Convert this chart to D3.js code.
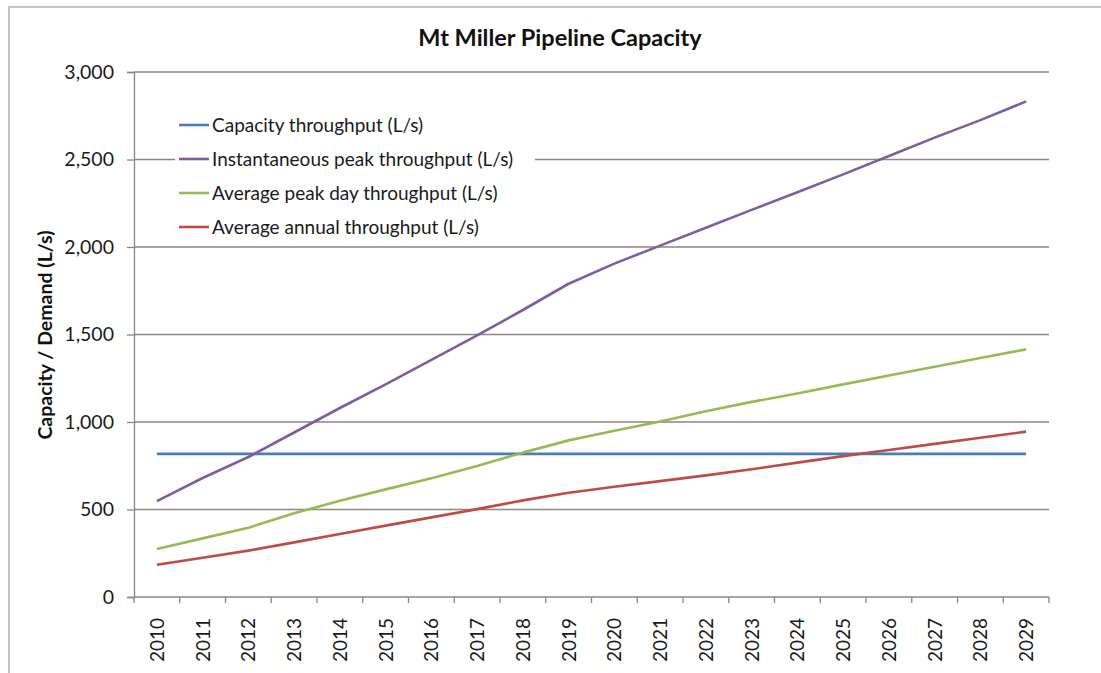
<!DOCTYPE html>
<html>
<head>
<meta charset="utf-8">
<script src="https://cdn.jsdelivr.net/npm/d3@7"></script>
<style>
  html, body { margin: 0; padding: 0; background: #fff; }
  svg { display: block; font-family: Lato, "Open Sans", sans-serif; }
</style>
</head>
<body>
<svg id="chart" width="1101" height="673"></svg>
<script>
// Forecast years
const years = ["2010","2011","2012","2013","2014","2015","2016","2017","2018","2019",
               "2020","2021","2022","2023","2024","2025","2026","2027","2028","2029"];

// Throughput series (L/s)
const capacityThroughput = [818,818,818,818,818,818,818,818,818,818,
                            818,818,818,818,818,818,818,818,818,818];
const instantaneousPeak = [548,680,800,940,1080,1215,1355,1495,1640,1790,
                           1905,2008,2110,2212,2313,2415,2520,2625,2725,2832];
const averagePeakDay = [274,335,396,478,550,615,678,748,825,895,
                        950,1003,1062,1115,1163,1215,1266,1316,1366,1415];
const averageAnnual = [184,224,265,312,360,408,455,502,552,596,
                       630,662,695,730,768,805,840,875,910,945];

const seriesNames = ["Capacity throughput (L/s)", "Instantaneous peak throughput (L/s)",
                     "Average peak day throughput (L/s)", "Average annual throughput (L/s)"];
const seriesColors = ["#4a7ebb", "#7d5fa0", "#98b954", "#be4b48"];
const seriesValues = [capacityThroughput, instantaneousPeak, averagePeakDay, averageAnnual];

const yTicks = [0, 500, 1000, 1500, 2000, 2500, 3000];

const svg = d3.select("#chart");
const margin = { left: 134, right: 1049, top: 72, bottom: 597 };

// Outer chart frame (top and left edges)
svg.append("path")
  .attr("d", "M9,673 L9,7 L1101,7")
  .attr("fill", "none")
  .attr("stroke", "#c4c4c4")
  .attr("stroke-width", 2);

const x = d3.scaleBand().domain(years).range([margin.left, margin.right]).padding(0);
const y = d3.scaleLinear().domain([0, 3000]).range([margin.bottom, margin.top]);

// Horizontal gridlines
svg.append("g")
  .selectAll("line")
  .data(yTicks.filter(d => d > 0))
  .join("line")
  .attr("x1", margin.left).attr("x2", margin.right)
  .attr("y1", d => y(d)).attr("y2", d => y(d))
  .attr("stroke", "#8c8684")
  .attr("stroke-width", 1.3);

// Y axis
const yAxis = svg.append("g")
  .attr("transform", `translate(${margin.left},0)`)
  .call(d3.axisLeft(y).tickValues(yTicks).tickSize(7).tickPadding(13)
    .tickFormat(d3.format(",")));
yAxis.select(".domain").attr("stroke", "#8c8684").attr("stroke-width", 1.3);
yAxis.selectAll(".tick line").attr("stroke", "#8c8684").attr("stroke-width", 1.3);
yAxis.selectAll(".tick text")
  .attr("font-size", 19.5).attr("fill", "#1a1a1a")
  .attr("font-family", "Lato, sans-serif");

// X axis: ticks sit between categories
const xAxisG = svg.append("g").attr("transform", `translate(0,${margin.bottom})`);
xAxisG.append("line")
  .attr("x1", margin.left).attr("x2", margin.right)
  .attr("stroke", "#8c8684").attr("stroke-width", 1.3);
const boundaries = years.map(d => x(d)).concat([x(years[years.length - 1]) + x.bandwidth()]);
xAxisG.selectAll("line.tk")
  .data(boundaries)
  .join("line")
  .attr("class", "tk")
  .attr("x1", d => d).attr("x2", d => d)
  .attr("y1", 0).attr("y2", 6)
  .attr("stroke", "#8c8684").attr("stroke-width", 1.3);
xAxisG.selectAll("text")
  .data(years)
  .join("text")
  .attr("transform", d => `translate(${x(d) + x.bandwidth() / 2 + 7},21) rotate(-90)`)
  .attr("text-anchor", "end")
  .attr("font-size", 19)
  .attr("fill", "#1a1a1a")
  .text(d => d);

// Axis title
svg.append("text")
  .attr("transform", "translate(52,335) rotate(-90)")
  .attr("text-anchor", "middle")
  .attr("font-size", 19.5)
  .attr("font-weight", "bold")
  .attr("fill", "#111")
  .text("Capacity / Demand (L/s)");

// Chart title
svg.append("text")
  .attr("x", 560).attr("y", 46)
  .attr("text-anchor", "middle")
  .attr("font-size", 23.5)
  .attr("font-weight", "bold")
  .attr("fill", "#111")
  .text("Mt Miller Pipeline Capacity");

// Series lines
const line = d3.line()
  .x((d, i) => x(years[i]) + x.bandwidth() / 2)
  .y(d => y(d));

svg.append("g")
  .selectAll("path")
  .data(seriesValues)
  .join("path")
  .attr("d", d => line(d))
  .attr("fill", "none")
  .attr("stroke", (d, i) => seriesColors[i])
  .attr("stroke-width", 2.6)
  .attr("stroke-linejoin", "round");

// Legend with white background inside the plot area
const legend = svg.append("g");
legend.append("rect")
  .attr("x", 175).attr("y", 108)
  .attr("width", 360).attr("height", 132)
  .attr("fill", "#fff");
const rowY = [125, 159, 193, 227];
seriesNames.forEach((name, i) => {
  legend.append("line")
    .attr("x1", 179).attr("x2", 209)
    .attr("y1", rowY[i]).attr("y2", rowY[i])
    .attr("stroke", seriesColors[i]).attr("stroke-width", 2.6);
  legend.append("text")
    .attr("x", 212).attr("y", rowY[i] + 6.5)
    .attr("font-size", 19)
    .attr("fill", "#1a1a1a")
    .text(name);
});
</script>
</body>
</html>
